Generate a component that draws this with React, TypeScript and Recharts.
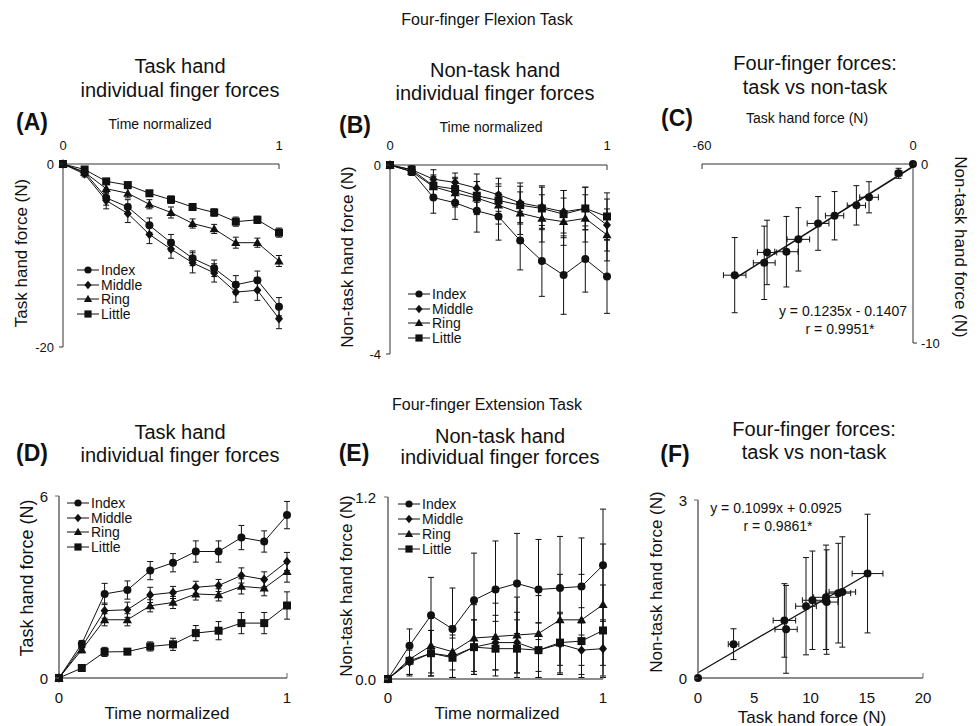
import React from "react";
import { LineChart, ComposedChart, Line, Scatter, XAxis, YAxis, ErrorBar, ReferenceLine } from "recharts";

// ── Data ─────────────────────────────────────────────────────────────────────
const time = [0, 0.1, 0.2, 0.3, 0.4, 0.5, 0.6, 0.7, 0.8, 0.9, 1];

// (A) flexion, task hand
const aIndex = [0, -0.9, -3.7, -4.7, -6.7, -8.6, -10.3, -11.4, -13.2, -12.7, -15.6];
const aMiddle = [0, -1.1, -4.0, -5.4, -7.7, -9.3, -10.8, -11.9, -14.0, -13.8, -16.9];
const aRing = [0, -0.9, -2.7, -3.2, -4.4, -5.3, -6.5, -7.1, -8.6, -8.6, -10.6];
const aLittle = [0, -0.6, -1.9, -2.3, -3.2, -3.9, -4.7, -5.3, -6.3, -6.1, -7.5];
const aIndexErr = [0, 0.3, 0.8, 0.8, 0.8, 0.9, 0.8, 0.9, 1.0, 1.0, 1.0];
const aMiddleErr = [0, 0.3, 0.9, 1.0, 1.0, 1.0, 1.1, 1.0, 1.1, 1.1, 1.1];
const aRingErr = [0, 0.3, 0.5, 0.5, 0.5, 0.6, 0.5, 0.5, 0.6, 0.5, 0.6];
const aLittleErr = [0, 0.2, 0.3, 0.3, 0.3, 0.4, 0.3, 0.4, 0.5, 0.4, 0.5];

// (B) flexion, non-task hand
const bIndex = [0, -0.14, -0.69, -0.8, -0.97, -1.09, -1.6, -2.03, -2.33, -1.99, -2.36];
const bMiddle = [0, -0.1, -0.3, -0.37, -0.49, -0.63, -0.8, -0.89, -0.99, -0.92, -1.27];
const bRing = [0, -0.14, -0.46, -0.59, -0.7, -0.85, -1.02, -1.13, -1.2, -1.13, -1.48];
const bLittle = [0, -0.1, -0.44, -0.51, -0.65, -0.75, -0.85, -0.92, -1.04, -0.92, -1.09];
const bIndexErr = [0, 0.08, 0.33, 0.35, 0.45, 0.5, 0.62, 0.75, 0.83, 0.7, 0.78];
const bMiddleErr = [0, 0.08, 0.2, 0.2, 0.3, 0.35, 0.42, 0.45, 0.45, 0.45, 0.55];
const bRingErr = [0, 0.08, 0.25, 0.3, 0.35, 0.4, 0.45, 0.5, 0.5, 0.5, 0.55];
const bLittleErr = [0, 0.08, 0.2, 0.25, 0.3, 0.35, 0.4, 0.45, 0.5, 0.45, 0.5];

// (C) flexion, task vs non-task
const cTask = [0, -4.1, -12.5, -16.1, -22.3, -27, -32.6, -36, -41.5, -42.3, -50.7];
const cNon = [0, -0.52, -1.86, -2.31, -2.89, -3.32, -4.21, -4.9, -4.94, -5.52, -6.21];
const cTaskErr = [0, 0.95, 2.65, 2.6, 2.6, 3.1, 3.2, 3.3, 2.75, 3.1, 3.2];
const cNonErr = [0, 0.28, 0.87, 1.1, 1.35, 1.5, 1.77, 1.97, 1.8, 2.05, 2.1];
const cTrendX = [-50.7, 0];
const cTrendY = [-6.4, -0.14];

// (D) extension, task hand
const dIndex = [0, 1.13, 2.77, 2.9, 3.54, 3.8, 4.17, 4.17, 4.63, 4.5, 5.37];
const dMiddle = [0, 1.02, 2.22, 2.25, 2.74, 2.82, 2.99, 3.05, 3.38, 3.25, 3.84];
const dRing = [0, 0.93, 1.92, 1.92, 2.38, 2.49, 2.77, 2.74, 3.02, 2.96, 3.51];
const dLittle = [0, 0.33, 0.86, 0.87, 1.04, 1.11, 1.48, 1.56, 1.81, 1.81, 2.39];
const dIndexErr = [0, 0.1, 0.35, 0.3, 0.3, 0.3, 0.35, 0.35, 0.4, 0.35, 0.45];
const dMiddleErr = [0, 0.1, 0.25, 0.25, 0.25, 0.2, 0.2, 0.2, 0.25, 0.25, 0.3];
const dRingErr = [0, 0.1, 0.2, 0.2, 0.2, 0.2, 0.2, 0.2, 0.25, 0.25, 0.35];
const dLittleErr = [0, 0.05, 0.15, 0.1, 0.15, 0.2, 0.25, 0.3, 0.35, 0.35, 0.45];

// (E) extension, non-task hand
const eIndex = [0, 0.22, 0.42, 0.33, 0.52, 0.59, 0.63, 0.59, 0.6, 0.61, 0.75];
const eMiddle = [0, 0.11, 0.17, 0.15, 0.21, 0.24, 0.24, 0.19, 0.23, 0.19, 0.2];
const eRing = [0, 0.13, 0.22, 0.18, 0.27, 0.28, 0.29, 0.3, 0.39, 0.39, 0.49];
const eLittle = [0, 0.12, 0.17, 0.14, 0.21, 0.2, 0.2, 0.19, 0.24, 0.25, 0.32];
const eIndexErr = [0, 0.11, 0.25, 0.27, 0.31, 0.32, 0.33, 0.33, 0.34, 0.32, 0.37];
const eMiddleErr = [0, 0.08, 0.15, 0.14, 0.18, 0.18, 0.2, 0.18, 0.2, 0.18, 0.19];
const eRingErr = [0, 0.1, 0.18, 0.17, 0.22, 0.22, 0.25, 0.25, 0.3, 0.3, 0.4];
const eLittleErr = [0, 0.1, 0.15, 0.13, 0.18, 0.18, 0.19, 0.18, 0.2, 0.22, 0.3];

// (F) extension, task vs non-task
const fTask = [0, 3.16, 7.68, 7.83, 9.6, 10.17, 11.38, 11.44, 12.47, 12.83, 15.07];
const fNon = [0, 0.57, 0.97, 0.82, 1.21, 1.31, 1.36, 1.28, 1.43, 1.45, 1.76];
const fTaskErr = [0, 0.47, 1.0, 0.99, 0.92, 0.89, 1.1, 1.0, 1.1, 1.18, 1.37];
const fNonErr = [0, 0.26, 0.62, 0.74, 0.82, 0.83, 0.88, 0.88, 0.84, 0.93, 1.0];
const fTrendX = [0, 15.07];
const fTrendY = [0.09, 1.75];

const fingers = ["Index", "Middle", "Ring", "Little"];
const kinds = ["circle", "diamond", "triangle", "square"];

// ── Style ────────────────────────────────────────────────────────────────────
const FONT = "'Liberation Sans', Arial, Helvetica, sans-serif";
const INK = "#111";
const AXIS = "#333";
const PAD = 40;
const AX = 20;

type Box = { x0: number; y0: number; x1: number; y1: number };

const boxA: Box = { x0: 63, y0: 164, x1: 279, y1: 347 };
const boxB: Box = { x0: 390, y0: 165, x1: 607, y1: 354 };
const boxC: Box = { x0: 702, y0: 164, x1: 913, y1: 343 };
const boxD: Box = { x0: 59, y0: 496, x1: 287, y1: 678 };
const boxE: Box = { x0: 388, y0: 497, x1: 603, y1: 679 };
const boxF: Box = { x0: 698, y0: 500, x1: 923, y1: 678 };

function frame(b: Box, sides: { top?: boolean; right?: boolean; bottom?: boolean; left?: boolean }) {
  return {
    style: { position: "absolute" as const, left: b.x0 - PAD, top: b.y0 - PAD },
    width: b.x1 - b.x0 + 2 * PAD,
    height: b.y1 - b.y0 + 2 * PAD,
    margin: {
      top: sides.top ? PAD - AX : PAD,
      right: sides.right ? PAD - AX : PAD,
      bottom: sides.bottom ? PAD - AX : PAD,
      left: sides.left ? PAD - AX : PAD,
    },
  };
}

function lineRows(vals: number[][], errs: number[][]) {
  return time.map((t, i) => ({
    t,
    v0: vals[0][i], e0: errs[0][i],
    v1: vals[1][i], e1: errs[1][i],
    v2: vals[2][i], e2: errs[2][i],
    v3: vals[3][i], e3: errs[3][i],
  }));
}

function pointRows(xs: number[], ys: number[], exs: number[], eys: number[]) {
  return xs.map((x, i) => ({ x, y: ys[i], ex: exs[i], ey: eys[i] }));
}

const rowsA = lineRows([aIndex, aMiddle, aRing, aLittle], [aIndexErr, aMiddleErr, aRingErr, aLittleErr]);
const rowsB = lineRows([bIndex, bMiddle, bRing, bLittle], [bIndexErr, bMiddleErr, bRingErr, bLittleErr]);
const rowsD = lineRows([dIndex, dMiddle, dRing, dLittle], [dIndexErr, dMiddleErr, dRingErr, dLittleErr]);
const rowsE = lineRows([eIndex, eMiddle, eRing, eLittle], [eIndexErr, eMiddleErr, eRingErr, eLittleErr]);
const ptsC = pointRows(cTask, cNon, cTaskErr, cNonErr);
const ptsF = pointRows(fTask, fNon, fTaskErr, fNonErr);

// ── Marks ────────────────────────────────────────────────────────────────────
function Marker({ kind, cx, cy, s = 4 }: { kind: string; cx: number; cy: number; s?: number }) {
  if (kind === "diamond")
    return <polygon points={`${cx},${cy - s * 1.2} ${cx + s},${cy} ${cx},${cy + s * 1.2} ${cx - s},${cy}`} fill={INK} />;
  if (kind === "triangle")
    return <polygon points={`${cx},${cy - s * 1.15} ${cx + s * 1.15},${cy + s * 0.85} ${cx - s * 1.15},${cy + s * 0.85}`} fill={INK} />;
  if (kind === "square")
    return <rect x={cx - s} y={cy - s} width={2 * s} height={2 * s} fill={INK} />;
  return <circle cx={cx} cy={cy} r={s} fill={INK} />;
}

type TickOpts = {
  dx: number; dy: number; anchor: "start" | "middle" | "end"; size: number;
  lx?: number; ly?: number; lineAt?: number[]; fmt?: (v: number) => string; color?: string;
};

const mkTick = (o: TickOpts) => (p: any) => {
  const { x, y, payload } = p;
  const v = payload.value as number;
  const showLine = (o.lx || o.ly) && (!o.lineAt || o.lineAt.includes(v));
  return (
    <g>
      {showLine ? <line x1={x} y1={y} x2={x + (o.lx || 0)} y2={y + (o.ly || 0)} stroke={o.color || AXIS} strokeWidth={1} /> : null}
      <text x={x + o.dx} y={y + o.dy} textAnchor={o.anchor} dominantBaseline="central" fontSize={o.size} fontFamily={FONT} fill={INK}>
        {o.fmt ? o.fmt(v) : String(v)}
      </text>
    </g>
  );
};

function fingerLines() {
  return kinds.map((k, i) => (
    <Line
      key={k}
      dataKey={`v${i}`}
      stroke={INK}
      strokeWidth={1}
      isAnimationActive={false}
      dot={(p: any) => <Marker key={`${k}-${p.index}`} kind={k} cx={p.cx} cy={p.cy} />}
      activeDot={false}
    >
      <ErrorBar dataKey={`e${i}`} width={3} stroke={INK} strokeWidth={1} direction="y" />
    </Line>
  ));
}

const axisTop = { stroke: AXIS, strokeWidth: 1 };
const axisBottom = { stroke: "#666", strokeWidth: 1.5 };

// ── Text helpers ─────────────────────────────────────────────────────────────
function Txt({ x, y, s, bold, rot, children }: { x: number; y: number; s: number; bold?: boolean; rot?: number; children: React.ReactNode }) {
  return (
    <div
      style={{
        position: "absolute", left: x, top: y,
        transform: `translate(-50%, -50%)${rot ? ` rotate(${rot}deg)` : ""}`,
        fontSize: s, fontWeight: bold ? 700 : 400, whiteSpace: "nowrap",
        lineHeight: 1, fontFamily: FONT, color: INK,
      }}
    >
      {children}
    </div>
  );
}

function FingerLegend({ x, y, gap = 14.7, size = 14 }: { x: number; y: number; gap?: number; size?: number }) {
  return (
    <>
      {fingers.map((f, i) => (
        <div key={f} style={{ position: "absolute", left: x, top: y + i * gap, transform: "translateY(-50%)", display: "flex", alignItems: "center", fontFamily: FONT, color: INK }}>
          <svg width={22} height={12}>
            <line x1={0} y1={6} x2={22} y2={6} stroke={INK} strokeWidth={1} />
            <Marker kind={kinds[i]} cx={11} cy={6} s={3.6} />
          </svg>
          <span style={{ marginLeft: 2, fontSize: size, lineHeight: 1 }}>{f}</span>
        </div>
      ))}
    </>
  );
}

// ── Figure ───────────────────────────────────────────────────────────────────
export default function App() {
  const fA = frame(boxA, { top: true, left: true });
  const fB = frame(boxB, { top: true, left: true });
  const fC = frame(boxC, { top: true, right: true });
  const fD = frame(boxD, { bottom: true, left: true });
  const fE = frame(boxE, { bottom: true, left: true });
  const fF = frame(boxF, { bottom: true, left: true });

  return (
    <div style={{ position: "absolute", left: 0, top: 0, width: 979, height: 726, background: "#fff", overflow: "hidden", fontFamily: FONT }}>
      <Txt x={487} y={20} s={16}>Four-finger Flexion Task</Txt>
      <Txt x={487} y={405} s={16}>Four-finger Extension Task</Txt>

      {/* titles, top row */}
      <Txt x={180} y={66} s={20}>Task hand</Txt>
      <Txt x={180} y={90} s={20}>individual finger forces</Txt>
      <Txt x={495} y={70} s={20}>Non-task hand</Txt>
      <Txt x={495} y={93} s={20}>individual finger forces</Txt>
      <Txt x={815} y={63} s={20}>Four-finger forces:</Txt>
      <Txt x={815} y={87} s={20}>task vs non-task</Txt>

      {/* titles, bottom row */}
      <Txt x={180} y={432} s={20}>Task hand</Txt>
      <Txt x={180} y={455} s={20}>individual finger forces</Txt>
      <Txt x={500} y={436} s={20}>Non-task hand</Txt>
      <Txt x={500} y={457} s={20}>individual finger forces</Txt>
      <Txt x={814} y={429} s={20}>Four-finger forces:</Txt>
      <Txt x={814} y={452} s={20}>task vs non-task</Txt>

      {/* panel letters */}
      <Txt x={32} y={122} s={23} bold>(A)</Txt>
      <Txt x={355} y={125} s={23} bold>(B)</Txt>
      <Txt x={677} y={118} s={23} bold>(C)</Txt>
      <Txt x={32} y={453} s={23} bold>(D)</Txt>
      <Txt x={354} y={453} s={23} bold>(E)</Txt>
      <Txt x={675} y={454} s={23} bold>(F)</Txt>

      {/* axis titles */}
      <Txt x={160} y={124} s={14}>Time normalized</Txt>
      <Txt x={491} y={127} s={14}>Time normalized</Txt>
      <Txt x={807} y={118} s={14}>Task hand force (N)</Txt>
      <Txt x={21} y={253} s={17} rot={-90}>Task hand force (N)</Txt>
      <Txt x={347} y={257} s={17} rot={-90}>Non-task hand force (N)</Txt>
      <Txt x={960} y={247} s={17} rot={90}>Non-task hand force (N)</Txt>
      <Txt x={167} y={713} s={17}>Time normalized</Txt>
      <Txt x={497} y={713} s={17}>Time normalized</Txt>
      <Txt x={812} y={717} s={17}>Task hand force (N)</Txt>
      <Txt x={27} y={578} s={18} rot={-90}>Task hand force (N)</Txt>
      <Txt x={346} y={586} s={17} rot={-90}>Non-task hand force (N)</Txt>
      <Txt x={656} y={582} s={17} rot={-90}>Non-task hand force (N)</Txt>

      {/* (A) */}
      <LineChart data={rowsA} width={fA.width} height={fA.height} margin={fA.margin} style={{ ...fA.style, overflow: "visible" }}>
        <XAxis dataKey="t" type="number" orientation="top" domain={[0, 1]} ticks={[0, 1]} interval={0} height={AX}
          axisLine={axisTop} tickLine={false} tickSize={0} tickMargin={0}
          tick={mkTick({ dx: 0, dy: -19, anchor: "middle", size: 13, ly: 5, lineAt: [1] })} />
        <YAxis type="number" domain={[-20, 0]} ticks={[0, -20]} interval={0} width={AX}
          axisLine={axisTop} tickLine={false} tickSize={0} tickMargin={0}
          tick={mkTick({ dx: -9, dy: 0, anchor: "end", size: 13, lx: -4 })} />
        {fingerLines()}
      </LineChart>

      {/* (B) */}
      <LineChart data={rowsB} width={fB.width} height={fB.height} margin={fB.margin} style={{ ...fB.style, overflow: "visible" }}>
        <XAxis dataKey="t" type="number" orientation="top" domain={[0, 1]} ticks={[0, 1]} interval={0} height={AX}
          axisLine={axisTop} tickLine={false} tickSize={0} tickMargin={0}
          tick={mkTick({ dx: 0, dy: -20, anchor: "middle", size: 13, ly: 5, lineAt: [1] })} />
        <YAxis type="number" domain={[-4, 0]} ticks={[0, -4]} interval={0} width={AX}
          axisLine={axisTop} tickLine={false} tickSize={0} tickMargin={0}
          tick={mkTick({ dx: -9, dy: 0, anchor: "end", size: 13, lx: -4 })} />
        {fingerLines()}
      </LineChart>

      {/* (C) */}
      <ComposedChart data={ptsC} width={fC.width} height={fC.height} margin={fC.margin} style={{ ...fC.style, overflow: "visible" }}>
        <XAxis dataKey="x" type="number" orientation="top" domain={[-60, 0]} ticks={[-60, 0]} interval={0} height={AX}
          axisLine={axisTop} tickLine={false} tickSize={0} tickMargin={0}
          tick={mkTick({ dx: 0, dy: -19, anchor: "middle", size: 13, ly: 5, lineAt: [-60] })} />
        <YAxis dataKey="y" type="number" orientation="right" domain={[-10, 0]} ticks={[0, -10]} interval={0} width={AX}
          axisLine={axisTop} tickLine={false} tickSize={0} tickMargin={0}
          tick={mkTick({ dx: 8, dy: 0, anchor: "start", size: 13, lx: 4 })} />
        <ReferenceLine segment={[{ x: cTrendX[0], y: cTrendY[0] }, { x: cTrendX[1], y: cTrendY[1] }]} stroke={INK} strokeWidth={1.5} />
        <Scatter data={ptsC} isAnimationActive={false}
          shape={(p: any) => <circle cx={p.cx} cy={p.cy} r={4} fill={INK} />}>
          <ErrorBar dataKey="ey" direction="y" width={3} stroke={INK} strokeWidth={1} />
          <ErrorBar dataKey="ex" direction="x" width={3} stroke={INK} strokeWidth={1} />
        </Scatter>
      </ComposedChart>
      <Txt x={843} y={311} s={14}>y = 0.1235x - 0.1407</Txt>
      <Txt x={840} y={329} s={14}>r = 0.9951*</Txt>

      {/* (D) */}
      <LineChart data={rowsD} width={fD.width} height={fD.height} margin={fD.margin} style={{ ...fD.style, overflow: "visible" }}>
        <XAxis dataKey="t" type="number" domain={[0, 1]} ticks={[0, 1]} interval={0} height={AX}
          axisLine={axisBottom} tickLine={false} tickSize={0} tickMargin={0}
          tick={mkTick({ dx: 0, dy: 19, anchor: "middle", size: 15, ly: -5, lineAt: [1], color: "#666" })} />
        <YAxis type="number" domain={[0, 6]} ticks={[0, 6]} interval={0} width={AX}
          axisLine={axisBottom} tickLine={false} tickSize={0} tickMargin={0}
          tick={mkTick({ dx: -11, dy: 0, anchor: "end", size: 15, lx: -4, color: "#666" })} />
        {fingerLines()}
      </LineChart>

      {/* (E) */}
      <LineChart data={rowsE} width={fE.width} height={fE.height} margin={fE.margin} style={{ ...fE.style, overflow: "visible" }}>
        <XAxis dataKey="t" type="number" domain={[0, 1]} ticks={[0, 1]} interval={0} height={AX}
          axisLine={axisBottom} tickLine={false} tickSize={0} tickMargin={0}
          tick={mkTick({ dx: 0, dy: 18, anchor: "middle", size: 15, ly: -5, lineAt: [1], color: "#666" })} />
        <YAxis type="number" domain={[0, 1.2]} ticks={[0, 1.2]} interval={0} width={AX}
          axisLine={axisBottom} tickLine={false} tickSize={0} tickMargin={0}
          tick={mkTick({ dx: -12, dy: 0, anchor: "end", size: 15, lx: -4, color: "#666", fmt: (v) => v.toFixed(1) })} />
        {fingerLines()}
      </LineChart>

      {/* (F) */}
      <ComposedChart data={ptsF} width={fF.width} height={fF.height} margin={fF.margin} style={{ ...fF.style, overflow: "visible" }}>
        <XAxis dataKey="x" type="number" domain={[0, 20]} ticks={[0, 5, 10, 15, 20]} interval={0} height={AX}
          axisLine={axisBottom} tickLine={false} tickSize={0} tickMargin={0}
          tick={mkTick({ dx: 0, dy: 19, anchor: "middle", size: 15, ly: -5, lineAt: [20], color: "#666" })} />
        <YAxis dataKey="y" type="number" domain={[0, 3]} ticks={[0, 3]} interval={0} width={AX}
          axisLine={axisBottom} tickLine={false} tickSize={0} tickMargin={0}
          tick={mkTick({ dx: -11, dy: 0, anchor: "end", size: 15, lx: -4, color: "#666" })} />
        <ReferenceLine segment={[{ x: fTrendX[0], y: fTrendY[0] }, { x: fTrendX[1], y: fTrendY[1] }]} stroke={INK} strokeWidth={1.2} />
        <Scatter data={ptsF} isAnimationActive={false}
          shape={(p: any) => <circle cx={p.cx} cy={p.cy} r={4} fill={INK} />}>
          <ErrorBar dataKey="ey" direction="y" width={3} stroke={INK} strokeWidth={1} />
          <ErrorBar dataKey="ex" direction="x" width={3} stroke={INK} strokeWidth={1} />
        </Scatter>
      </ComposedChart>
      <Txt x={776} y={508} s={14}>y = 0.1099x + 0.0925</Txt>
      <Txt x={778} y={526} s={14}>r = 0.9861*</Txt>

      <FingerLegend x={77} y={270} />
      <FingerLegend x={408} y={294} />
      <FingerLegend x={67} y={503} />
      <FingerLegend x={398} y={503.5} gap={15} />
    </div>
  );
}
